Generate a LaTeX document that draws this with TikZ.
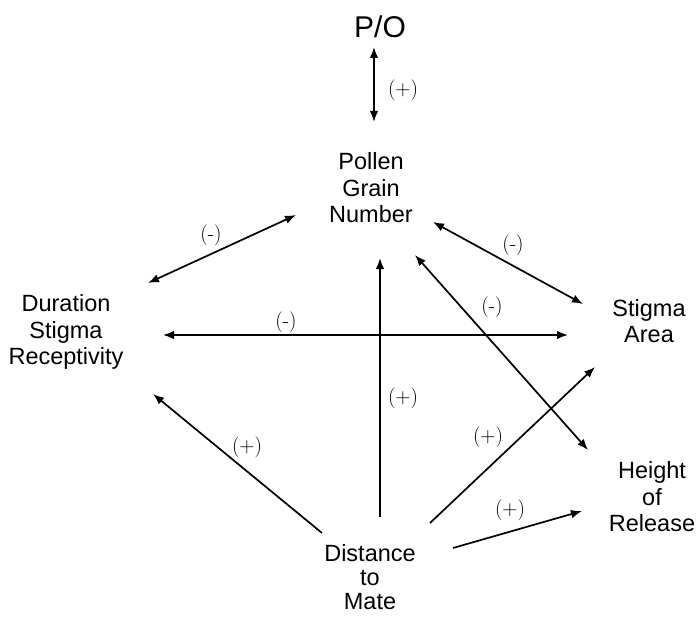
\documentclass[tikz,border=0pt]{standalone}
\usepackage{fontspec}
\newfontfamily\arialf{Liberation Sans}
\usetikzlibrary{arrows.meta}
\tikzset{
  term/.style={font=\arialf\fontsize{23.5}{26.5}\selectfont, align=center, inner sep=0pt},
  sign/.style={font=\rmfamily\fontsize{21}{24}\selectfont, inner sep=0pt},
  link/.style={line width=1.7pt, -{Latex[length=11pt,width=8.5pt]}},
  dlink/.style={line width=1.7pt, {Latex[length=11pt,width=8.5pt]}-{Latex[length=11pt,width=8.5pt]}}
}
\begin{document}
\begin{tikzpicture}[x=1pt,y=-1pt]
\useasboundingbox (0,0) rectangle (697,618);
% nodes
\node[term, font=\arialf\fontsize{30}{32}\selectfont] (po) at (380,27) {P/O};
\node[term] (pollen) at (371,188) {Pollen\\Grain\\Number};
\node[term] (dur) at (66,332) {Duration\\Stigma\\Receptivity};
\node[term] (stig) at (649,321) {Stigma\\Area};
\node[term] (height) at (652,497) {Height\\of\\Release};
\node[term, font=\arialf\fontsize{23.5}{24}\selectfont] (dist) at (370,577) {Distance\\to\\Mate};
% connector ends
\coordinate (poA) at (374,47);
\coordinate (poB) at (374,122);
\coordinate (dpA) at (148,283);
\coordinate (dpB) at (296,215);
\coordinate (hA) at (163,335);
\coordinate (hB) at (568,335);
\coordinate (psA) at (433,222);
\coordinate (psB) at (583,304);
\coordinate (phA) at (415,255);
\coordinate (phB) at (588,450);
\coordinate (dsA) at (430,523);
\coordinate (dsB) at (595,367);
\coordinate (dhA) at (453,548);
\coordinate (dhB) at (582,511);
\coordinate (dvA) at (380,517);
\coordinate (dvB) at (380,258);
\coordinate (ddA) at (322,533);
\coordinate (ddB) at (153,394);
% connectors
\draw[dlink] (poA) -- (poB);
\draw[dlink] (dpA) -- (dpB);
\draw[dlink] (hA) -- (hB);
\draw[dlink] (psA) -- (psB);
\draw[dlink] (phA) -- (phB);
\draw[link] (dsA) -- (dsB);
\draw[link] (dhA) -- (dhB);
\draw[link] (dvA) -- (dvB);
\draw[link] (ddA) -- (ddB);
% labels
\node[sign] (l1) at (403,90) {(+)};
\node[sign] (l2) at (211,235) {(-)};
\node[sign] (l3) at (286,322) {(-)};
\node[sign] (l4) at (513,245) {(-)};
\node[sign] (l5) at (492,307) {(-)};
\node[sign] (l6) at (488,437) {(+)};
\node[sign] (l7) at (510,510) {(+)};
\node[sign] (l8) at (403,398) {(+)};
\node[sign] (l9) at (247,447) {(+)};
\end{tikzpicture}
\end{document}
